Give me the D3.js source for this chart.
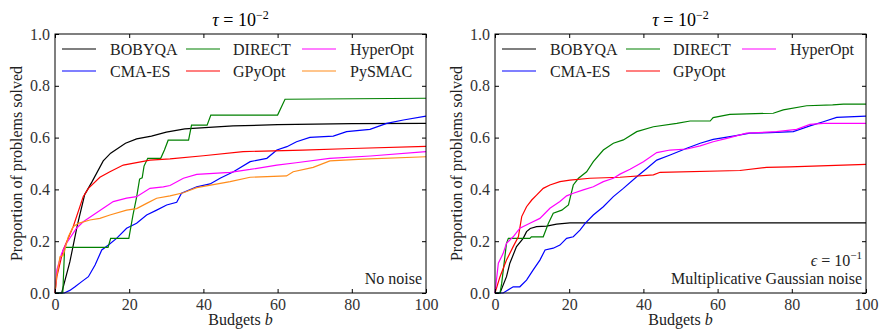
<!DOCTYPE html>
<html>
<head>
<meta charset="utf-8">
<script src="https://cdn.jsdelivr.net/npm/d3@7"></script>
<style>
  body { margin: 0; background: #fff; }
</style>
</head>
<body>
<div id="chart"></div>
<script>
// ---- data: [budget, proportion solved] ----
var xTicks = [0, 20, 40, 60, 80, 100];
var yTicks = [0, 0.2, 0.4, 0.6, 0.8, 1.0];

// panel 1: no noise
var noNoiseBOBYQA = [[0,0],[1.8,0],[4,0.12],[6,0.26],[8,0.38],[10,0.43],[13,0.51],[15,0.54],[19,0.578],[22,0.595],[26,0.606],[30,0.621],[35,0.634],[48,0.645],[60,0.65],[80,0.654],[100,0.655]];
var noNoiseCMAES = [[0,0],[2.5,0],[4,0.01],[5.4,0.024],[7.2,0.044],[9,0.063],[10.8,0.108],[12.6,0.166],[14.4,0.185],[16.6,0.211],[19.3,0.25],[22,0.269],[24.7,0.301],[27.4,0.32],[30.1,0.34],[32.8,0.35],[34.1,0.385],[38.2,0.41],[41.8,0.421],[44.5,0.443],[48.1,0.468],[52.6,0.507],[57.1,0.52],[59.8,0.552],[62.5,0.565],[65.1,0.584],[68.7,0.601],[75,0.606],[78.6,0.623],[84.9,0.632],[89.4,0.655],[93.9,0.668],[100,0.683]];
var noNoiseDIRECT = [[0,0],[2.1,0],[2.6,0.176],[14.3,0.176],[15,0.211],[19.9,0.211],[21,0.3],[22,0.37],[22.8,0.44],[23.5,0.445],[24,0.49],[25,0.52],[28.5,0.52],[29.5,0.552],[30.5,0.59],[36,0.59],[36.8,0.648],[41,0.648],[42,0.687],[60,0.687],[62,0.748],[100,0.752]];
var noNoiseGPyOpt = [[0,0],[0.5,0.063],[2.2,0.166],[4.9,0.256],[7.6,0.372],[9,0.404],[12.1,0.447],[14.8,0.468],[18.4,0.494],[25.6,0.513],[31,0.518],[40,0.53],[50.7,0.546],[66.8,0.552],[80,0.558],[100,0.566]];
var noNoiseHyperOpt = [[0,0],[0.5,0.089],[1.8,0.153],[3.1,0.192],[5.8,0.25],[7.6,0.275],[10.3,0.301],[13,0.327],[15.7,0.353],[19.3,0.366],[22,0.372],[25.6,0.404],[29.2,0.41],[31,0.415],[34.6,0.443],[38.2,0.458],[47.2,0.466],[52.6,0.477],[59.8,0.494],[65,0.503],[74,0.52],[85,0.529],[100,0.546]];
var noNoisePySMAC = [[0,0],[0.4,0.06],[1.35,0.14],[2.2,0.145],[3.6,0.217],[4.9,0.256],[6.3,0.269],[9.4,0.282],[12.1,0.288],[14.8,0.301],[19.3,0.32],[22,0.326],[24.7,0.346],[27.4,0.366],[31,0.375],[34.6,0.387],[38.2,0.407],[47.2,0.43],[52.6,0.447],[62.4,0.452],[64.2,0.468],[69.6,0.485],[74.1,0.51],[83,0.517],[100,0.526]];

// panel 2: multiplicative gaussian noise
var gaussBOBYQA = [[0,0],[1.35,0],[3.1,0.063],[4,0.115],[5.8,0.179],[7.6,0.211],[8.5,0.237],[9.5,0.249],[11.2,0.256],[13.9,0.258],[16.6,0.266],[20.2,0.271],[100,0.271]];
var gaussCMAES = [[0,0],[2.2,0],[4.9,0.024],[6.7,0.024],[8.5,0.05],[10.3,0.089],[12.1,0.127],[13.5,0.166],[15.7,0.173],[17.5,0.185],[19.3,0.211],[21.1,0.217],[22.9,0.243],[24.3,0.269],[26.5,0.301],[29.2,0.333],[31.9,0.372],[34.6,0.404],[38.2,0.449],[40.9,0.481],[43.6,0.513],[47.2,0.533],[51.7,0.559],[55.3,0.578],[58.8,0.593],[64.2,0.606],[68.7,0.617],[74.1,0.619],[80.4,0.623],[84.9,0.645],[88.5,0.661],[92.1,0.678],[100,0.683]];
var gaussDIRECT = [[0,0],[1.35,0],[1.8,0.037],[3.1,0.192],[3.6,0.211],[9.4,0.211],[9.8,0.217],[13,0.217],[14.4,0.269],[15.7,0.308],[18,0.32],[19.8,0.34],[21.1,0.417],[22.5,0.443],[24.7,0.468],[26.5,0.507],[29.2,0.552],[31.9,0.578],[34.6,0.591],[38.2,0.623],[42.7,0.642],[49,0.655],[52.6,0.664],[58,0.664],[58.8,0.677],[63.3,0.69],[75,0.694],[77.7,0.707],[84,0.723],[91,0.726],[93.9,0.729],[100,0.729]];
var gaussGPyOpt = [[0,0],[1.35,0.063],[3.1,0.127],[4.9,0.179],[6.3,0.217],[7.2,0.295],[8.5,0.333],[9.9,0.359],[11.2,0.378],[13,0.404],[14.8,0.417],[17.5,0.43],[20.2,0.436],[25.6,0.443],[33.7,0.447],[42.7,0.456],[44.5,0.466],[66,0.473],[73.2,0.485],[79.5,0.487],[100,0.497]];
var gaussHyperOpt = [[0,0],[0.9,0.115],[2.2,0.153],[3.1,0.192],[4.9,0.217],[6.7,0.25],[9.4,0.269],[12.1,0.288],[14.8,0.327],[17.5,0.353],[19.3,0.375],[21.1,0.385],[23.8,0.398],[26.5,0.41],[29.2,0.43],[31.9,0.443],[33.7,0.459],[36.4,0.478],[40,0.507],[43.6,0.542],[47.2,0.552],[51.7,0.556],[55.3,0.568],[58.8,0.584],[62.5,0.597],[67.8,0.617],[75.9,0.623],[81.3,0.632],[84.9,0.651],[88.5,0.655],[100,0.655]];

var methodNames = ["BOBYQA", "CMA-ES", "DIRECT", "GPyOpt", "HyperOpt", "PySMAC"];
var methodColors = ["#000000", "#0000ff", "#008000", "#ff0000", "#ff00ff", "#ff8c1a"];

var panels = [
    { left: 55, series: [noNoiseBOBYQA, noNoiseCMAES, noNoiseDIRECT, noNoiseGPyOpt, noNoiseHyperOpt, noNoisePySMAC],
      notes: ["No noise"] },
    { left: 495, series: [gaussBOBYQA, gaussCMAES, gaussDIRECT, gaussGPyOpt, gaussHyperOpt, null],
      notes: ["eps", "Multiplicative Gaussian noise"] }
];

var FONT = "'Liberation Serif', 'Times New Roman', 'DejaVu Serif', serif";
var marginTop = 34, width = 371, height = 259;

var svg = d3.select("#chart")
    .append("svg")
    .attr("width", 879)
    .attr("height", 331)
    .style("font-family", FONT);

var x = d3.scaleLinear().domain([0, 100]).range([0, width]);
var y = d3.scaleLinear().domain([0, 1]).range([height, 0]);

var line = d3.line()
    .x(function(d) { return x(d[0]); })
    .y(function(d) { return y(d[1]); });

panels.forEach(function(p) {
    var g = svg.append("g")
        .attr("transform", "translate(" + p.left + ", " + marginTop + ")");

    // lines
    p.series.forEach(function(s, i) {
        if (!s) return;
        g.append("path")
            .datum(s)
            .attr("fill", "none")
            .attr("stroke", methodColors[i])
            .attr("stroke-width", 1.2)
            .attr("d", line);
    });

    // axes, ticks pointing inward on all sides
    var xAxisCall = d3.axisBottom(x).tickValues(xTicks).tickSizeInner(-4).tickSizeOuter(0).tickPadding(5);
    var xa = g.append("g")
        .attr("transform", "translate(0, " + height + ")")
        .call(xAxisCall);
    xa.selectAll("text").attr("y", 17).attr("dy", 0);

    var yAxisCall = d3.axisLeft(y).tickValues(yTicks).tickSizeInner(-4).tickSizeOuter(0).tickPadding(5)
        .tickFormat(d3.format(".1f"));
    g.append("g").call(yAxisCall);

    g.append("g")
        .call(d3.axisTop(x).tickValues(xTicks).tickSizeInner(-4).tickSizeOuter(0).tickFormat(""));
    g.append("g")
        .attr("transform", "translate(" + width + ", 0)")
        .call(d3.axisRight(y).tickValues(yTicks).tickSizeInner(-4).tickSizeOuter(0).tickFormat(""));

    g.selectAll("g").attr("font-family", null).attr("font-size", null);
    g.selectAll(".tick text")
        .style("font-family", FONT)
        .style("font-size", "16px")
        .attr("fill", "#333");
    g.selectAll(".tick line").attr("stroke", "#000");
    g.selectAll(".domain").remove();

    // frame
    g.append("rect")
        .attr("width", width)
        .attr("height", height)
        .attr("fill", "none")
        .attr("stroke", "#000")
        .attr("stroke-width", 1);

    // title
    var title = g.append("text")
        .attr("x", width / 2)
        .attr("y", -8)
        .attr("text-anchor", "middle")
        .style("font-family", FONT)
        .style("font-size", "18px");
    title.append("tspan").attr("font-style", "italic").text("τ");
    title.append("tspan").text(" = 10");
    title.append("tspan").attr("dy", -7).style("font-size", "12px").text("−2");

    // legend, 3 columns x 2 rows
    var colLine = [7, 131, 247];
    var colText = [55, 178, 295];
    methodNames.forEach(function(name, i) {
        if (!p.series[i]) return;
        var col = Math.floor(i / 2), row = i % 2;
        var ly = 15 + row * 22;
        g.append("line")
            .attr("x1", colLine[col]).attr("x2", colLine[col] + 34)
            .attr("y1", ly).attr("y2", ly)
            .attr("stroke", methodColors[i])
            .attr("stroke-width", 1.2);
        g.append("text")
            .attr("x", colText[col])
            .attr("y", ly + 6)
            .style("font-family", FONT)
            .style("font-size", "16px")
            .attr("fill", "#222")
            .text(name);
    });

    // notes in the lower right corner
    if (p.notes.length == 1) {
        g.append("text")
            .attr("x", width - 4)
            .attr("y", height - 9)
            .attr("text-anchor", "end")
            .style("font-family", FONT)
            .style("font-size", "16px")
            .attr("fill", "#222")
            .text(p.notes[0]);
    } else {
        var eps = g.append("text")
            .attr("x", width - 4)
            .attr("y", height - 27)
            .attr("text-anchor", "end")
            .style("font-family", FONT)
            .style("font-size", "16px")
            .attr("fill", "#222");
        eps.append("tspan").attr("font-style", "italic").text("ϵ");
        eps.append("tspan").text(" = 10");
        eps.append("tspan").attr("dy", -7).style("font-size", "11px").text("−1");
        g.append("text")
            .attr("x", width - 4)
            .attr("y", height - 9)
            .attr("text-anchor", "end")
            .style("font-family", FONT)
            .style("font-size", "16px")
            .attr("fill", "#222")
            .text(p.notes[1]);
    }

    // x label
    var xl = g.append("text")
        .attr("x", width / 2)
        .attr("y", height + 32)
        .attr("text-anchor", "middle")
        .style("font-family", FONT)
        .style("font-size", "16px")
        .attr("fill", "#222");
    xl.append("tspan").text("Budgets ");
    xl.append("tspan").attr("font-style", "italic").text("b");

    // y label
    g.append("text")
        .attr("x", -(height / 2))
        .attr("y", -33)
        .attr("text-anchor", "middle")
        .style("font-family", FONT)
        .style("font-size", "16px")
        .attr("fill", "#222")
        .attr("transform", "rotate(-90)")
        .text("Proportion of problems solved");
});
</script>
</body>
</html>
